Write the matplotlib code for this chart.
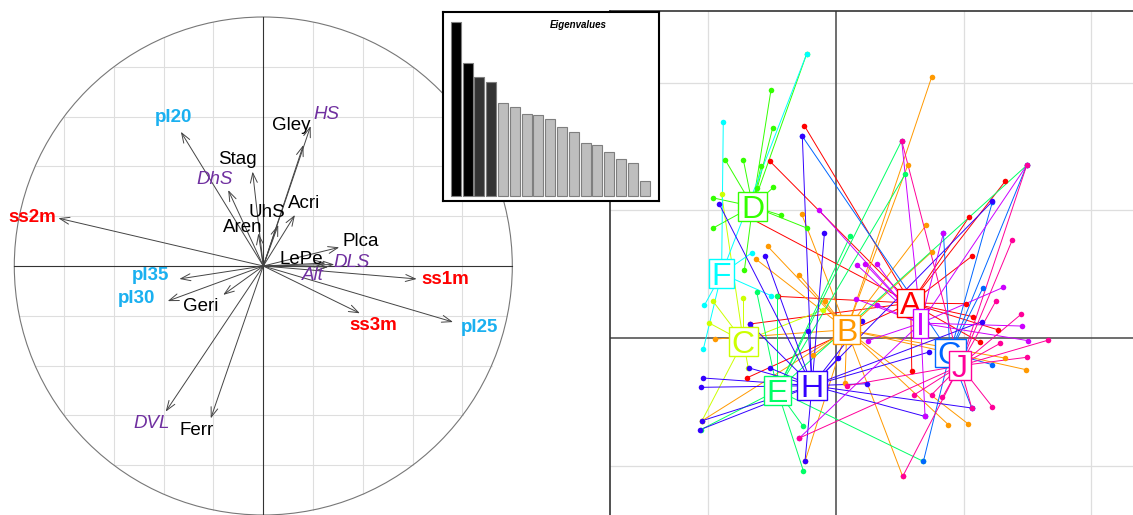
import numpy as np
import matplotlib.pyplot as plt
from matplotlib.patches import Circle, Rectangle
from matplotlib.transforms import ScaledTranslation

plt.rcParams['font.family'] = ['Liberation Sans', 'DejaVu Sans']

# ======== CORRELATION CIRCLE DATA ========
var_names = ['ss1m', 'ss2m', 'ss3m', 'pl20', 'pl25', 'pl30', 'pl35',
             'HS', 'DhS', 'DLS', 'DVL', 'Alt',
             'Gley', 'Stag', 'Aren', 'UhS', 'Acri', 'Plca', 'LePe', 'Geri', 'Ferr']
var_x = [0.616, -0.823, 0.388, -0.331, 0.762, -0.384, -0.337,
         0.190, -0.141, 0.285, -0.392, 0.260,
         0.161, -0.043, -0.020, 0.060, 0.127, 0.305, 0.250, -0.161, -0.211]
var_y = [-0.052, 0.192, -0.190, 0.539, -0.225, -0.141, -0.052,
         0.562, 0.305, 0.006, -0.585, -0.004,
         0.486, 0.379, 0.131, 0.165, 0.205, 0.075, 0.012, -0.116, -0.612]
lab_x = [0.730, -0.926, 0.442, -0.359, 0.870, -0.508, -0.452,
         0.255, -0.194, 0.355, -0.448, 0.201,
         0.114, -0.103, -0.084, 0.014, 0.163, 0.392, 0.151, -0.251, -0.267]
lab_y = [-0.056, 0.196, -0.240, 0.597, -0.245, -0.130, -0.040,
         0.609, 0.349, 0.013, -0.632, -0.040,
         0.563, 0.428, 0.155, 0.216, 0.252, 0.098, 0.027, -0.161, -0.661]
var_type = ['ss'] * 3 + ['pl'] * 4 + ['eco'] * 5 + ['soil'] * 9

type_style = {
    'ss': dict(color='#FF0000', weight='bold', style='normal'),
    'pl': dict(color='#1AB0F0', weight='bold', style='normal'),
    'eco': dict(color='#7030A0', weight='normal', style='italic'),
    'soil': dict(color='black', weight='normal', style='normal'),
}

# ======== EIGENVALUES ========
eigen = [4.35, 3.32, 2.98, 2.85, 2.32, 2.22, 2.05, 2.02, 1.93, 1.73,
         1.60, 1.32, 1.27, 1.10, 0.92, 0.83, 0.37]

# ======== CLASSES (s.class) ========
class_names = ['A', 'B', 'C', 'D', 'E', 'F', 'G', 'H', 'I', 'J']
class_colors = ['#FF0000', '#FF9900', '#CCFF00', '#33FF00', '#00FF66',
                '#00FFFF', '#0066FF', '#3300FF', '#CC00FF', '#FF0099']
class_x = [0.585, 0.084, -0.726, -0.653, -0.460, -0.896, 0.893, -0.188, 0.663, 0.971]
class_y = [0.274, 0.065, -0.026, 1.031, -0.410, 0.504, -0.117, -0.373, 0.117, -0.217]

pt_cls = (['A'] * 14 + ['B'] * 19 + ['C'] * 7 + ['D'] * 13 + ['E'] * 10 +
          ['F'] * 6 + ['G'] * 8 + ['H'] * 21 + ['I'] * 15 + ['J'] * 16)
pt_x = [
    # A
    -0.248, -0.517, -0.674, -0.452, -0.674, -0.700, 1.042, 1.063, 1.021, 1.076,
    1.272, 1.128, 0.593, 1.324,
    # B
    0.749, 0.561, -0.269, 0.705, -0.535, -0.629, -0.290, -0.086, -0.948, -0.178,
    1.324, 1.488, 0.880, 1.037, 0.522, -0.243, -1.050, 0.749, 0.070,
    # C
    -0.896, -0.966, -0.726, -0.992, -1.050, -0.099, -0.687,
    # D
    -0.509, -0.496, -0.230, -0.869, -0.726, -0.587, -0.491, -0.961, -0.621, -0.431,
    -0.961, -0.718, -0.230,
    # E
    -0.621, -0.460, 0.110, 0.514, 0.543, 1.493, -0.256, -0.256, 0.684, -1.060,
    # F
    -0.230, -0.883, -0.661, -0.509, -1.031, -1.039,
    # G
    -0.264, 1.493, 1.225, 0.841, 1.149, 0.684, 1.063, 1.225,
    # H
    -0.264, -0.916, -0.091, -0.556, -0.674, -0.217, 0.018, 0.206, -1.039, -1.057,
    -1.050, -1.065, -0.679, -0.517, -0.243, 0.240, 0.728, 1.063, 0.697, 1.225, 1.141,
    # I
    -0.131, 0.162, 0.227, 0.319, 0.157, 0.319, 0.248, 0.841, 1.493, 1.310,
    1.454, 1.506, 0.697, 0.514, -0.287,
    # J
    0.514, 1.493, 1.381, 1.253, 1.449, 1.284, 1.663, 1.493, 1.225, 1.063,
    0.833, 0.749, 0.614, 0.522, -0.287, 0.084,
]
pt_y = [
    # A
    1.663, 1.384, 0.940, 0.326, 0.110, -0.313, 0.948, 0.640, 0.269, 0.167,
    0.063, -0.034, -0.256, 1.227,
    # B
    2.044, 1.352, 0.971, 0.883, 0.718, 0.619, 0.496, 0.287, -0.008, -0.131,
    -0.157, -0.248, -0.679, -0.674, -1.084, -0.966, -0.648, 0.674, -0.350,
    # C
    1.128, 0.292, 0.313, 0.117, -0.648, 0.222, -0.235,
    # D
    1.945, 1.645, 2.225, 1.397, 1.397, 1.350, 1.180, 1.097, 1.175, 0.961,
    0.862, 0.530, 0.862,
    # E
    0.360, 0.332, 0.796, 1.546, 1.285, 1.352, -0.692, -1.039, -0.966, -0.718,
    # F
    2.225, 1.689, 0.666, 0.332, 0.256, -0.086,
    # G
    1.580, 1.352, 1.068, 0.822, 0.389, -0.966, -0.548, -0.209,
    # H
    1.580, 1.052, 0.822, 0.645, 0.110, 0.057, -0.157, 0.131, -0.313, -0.386,
    -0.648, -0.718, -0.235, -0.235, -0.966, -0.358, -0.110, -0.548, -0.614, 1.071, 0.128,
    # I
    1.000, 0.574, 0.582, 0.582, 0.305, 0.261, -0.021, 0.822, 1.352, 0.397,
    0.094, -0.021, -0.614, 1.546, -0.783,
    # J
    1.546, 1.352, 0.770, 0.292, 0.186, -0.042, -0.016, -0.151, -0.540, -0.548,
    -0.465, -0.444, -0.444, -1.084, -0.783, -0.373,
]

# ======== FIGURE ========
W, H = 1133, 515
fig = plt.figure(figsize=(W / 100, H / 100), dpi=100)

# ---- left: correlation circle (249 px per unit, centre at 263,266) ----
ax1 = fig.add_axes([0, 0, 530 / W, 1])
ax1.set_xlim(-263.3 / 249, (530 - 263.3) / 249)
ax1.set_ylim((266 - 515) / 249, 266 / 249)
ax1.axis('off')

for v in np.arange(-0.8, 0.81, 0.2):
    if abs(v) < 1e-9:
        continue
    h = np.sqrt(1 - v ** 2)
    ax1.plot([v, v], [-h, h], color='#DEDEDE', lw=0.8, zorder=1)
    ax1.plot([-h, h], [v, v], color='#DEDEDE', lw=0.8, zorder=1)
ax1.add_patch(Circle((0, 0), 1, fill=False, edgecolor='#777777', lw=0.8, zorder=2))
ax1.plot([-1, 1], [0, 0], color='#333333', lw=0.8, zorder=2)
ax1.plot([0, 0], [-1, 1], color='#333333', lw=0.8, zorder=2)

for i, name in enumerate(var_names):
    ax1.annotate('', xy=(var_x[i], var_y[i]), xytext=(0, 0),
                 arrowprops=dict(arrowstyle='->,head_length=0.7,head_width=0.25',
                                 color='#444444', lw=0.7, shrinkA=0, shrinkB=0),
                 zorder=3)
    st = type_style[var_type[i]]
    ax1.text(lab_x[i], lab_y[i], name, ha='center', va='center', fontsize=13.5,
             color=st['color'], fontweight=st['weight'], fontstyle=st['style'], zorder=4)

# ---- right: class plot (127.7 px per unit, origin at 836,338) ----
sc = 127.7
x0, x1 = -1.77, 2.85
y0, y1 = -1.90, 2.561
ax2 = fig.add_axes([610 / W, 1 - 11 / H - (y1 - y0) * sc / H,
                    (x1 - x0) * sc / W, (y1 - y0) * sc / H])
ax2.set_xlim(x0, x1)
ax2.set_ylim(y0, y1)
ax2.set_xticks([])
ax2.set_yticks([])
for s in ax2.spines.values():
    s.set_color('#333333')
    s.set_linewidth(1.2)
for g in [-1, 1, 2]:
    ax2.axvline(g, color='#DEDEDE', lw=0.9, zorder=0)
    ax2.axhline(g, color='#DEDEDE', lw=0.9, zorder=0)
ax2.axvline(0, color='#555555', lw=1.2, zorder=1)
ax2.axhline(0, color='#555555', lw=1.2, zorder=1)

pt_x = np.array(pt_x)
pt_y = np.array(pt_y)
pt_cls = np.array(pt_cls)
for k, cls in enumerate(class_names):
    m = pt_cls == cls
    for px, py in zip(pt_x[m], pt_y[m]):
        ax2.plot([class_x[k], px], [class_y[k], py], color=class_colors[k], lw=0.7, zorder=2)
for k, cls in enumerate(class_names):
    m = pt_cls == cls
    ax2.scatter(pt_x[m], pt_y[m], s=16, color=class_colors[k], linewidths=0, zorder=3)

# labels in boxes, sized from the rendered text
fs = 23
cap = 0.716 * fs / 72 * fig.dpi
fig.canvas.draw()
renderer = fig.canvas.get_renderer()
off = ScaledTranslation(0, -cap / 2 / fig.dpi, fig.dpi_scale_trans)
inv = ax2.transAxes.inverted()
for k, cls in enumerate(class_names):
    t = ax2.text(class_x[k], class_y[k], cls, transform=ax2.transData + off,
                 ha='center', va='baseline', fontsize=fs, color=class_colors[k],
                 zorder=6 + 2 * k)
    w = t.get_window_extent(renderer).width
    cx, cy = ax2.transData.transform((class_x[k], class_y[k]))
    bx0, by0 = inv.transform((cx - w / 2 - 3, cy - cap / 2 - 3))
    bx1, by1 = inv.transform((cx + w / 2 + 3, cy + cap / 2 + 3))
    ax2.add_patch(Rectangle((bx0, by0), bx1 - bx0, by1 - by0, transform=ax2.transAxes,
                            facecolor='white', edgecolor=class_colors[k], lw=1,
                            zorder=5 + 2 * k))

# ---- eigenvalue inset ----
ax3 = fig.add_axes([443 / W, 1 - 201 / H, 216 / W, 189 / H])
bar_cols = ['black', 'black', '#333333', '#333333'] + ['#BEBEBE'] * (len(eigen) - 4)
ax3.bar(np.arange(len(eigen)), eigen, width=0.85, color=bar_cols,
        edgecolor='#7F7F7F', linewidth=0.8)
ax3.set_xlim(-1.08, 17.22)
ax3.set_ylim(-0.125, 4.6)
ax3.set_xticks([])
ax3.set_yticks([])
ax3.set_facecolor('white')
for s in ax3.spines.values():
    s.set_color('black')
    s.set_linewidth(1.5)
ax3.text(0.625, 0.931, 'Eigenvalues', transform=ax3.transAxes, ha='center', va='center',
         fontsize=7, fontweight='bold', fontstyle='italic')

fig.savefig('out.png', dpi=100)
